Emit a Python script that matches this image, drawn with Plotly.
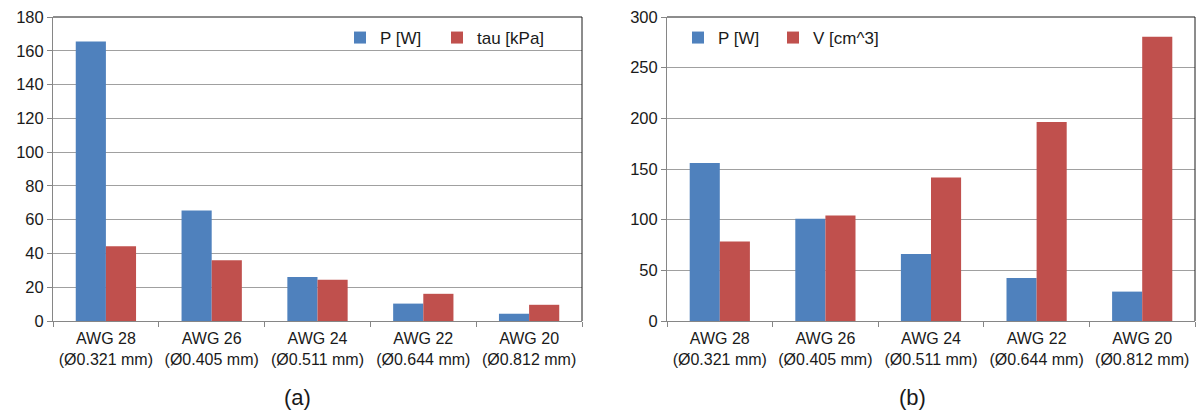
import plotly.graph_objects as go

# Wire gauges compared in both panels
categories = [
    "AWG 28<br>(Ø0.321 mm)",
    "AWG 26<br>(Ø0.405 mm)",
    "AWG 24<br>(Ø0.511 mm)",
    "AWG 22<br>(Ø0.644 mm)",
    "AWG 20<br>(Ø0.812 mm)",
]

# Panel (a): power and shear stress
power_a = [165.5, 65.5, 26, 10.3, 4.3]
tau_kpa = [44.2, 36, 24.4, 16.1, 9.6]

# Panel (b): power and volume
power_b = [156, 101, 66, 42.5, 29]
volume_cm3 = [78.5, 104, 141.5, 196.5, 280.5]

y_ticks_a = list(range(0, 181, 20))
y_ticks_b = list(range(0, 301, 50))

BLUE = "#4F81BD"
RED = "#C0504D"
FONT = "Liberation Sans, Arial, sans-serif"
TEXT = "#1a1a1a"
W, H = 1198, 412


def px_x(v):
    return v / W


def px_y(v):
    return 1 - v / H


fig = go.Figure()

# each series gets its own legend box so the entries can be spaced freely
fig.add_trace(go.Bar(x=categories, y=power_a, name="P [W]", marker_color=BLUE,
                     xaxis="x", yaxis="y", legend="legend"))
fig.add_trace(go.Bar(x=categories, y=tau_kpa, name="tau [kPa]", marker_color=RED,
                     xaxis="x", yaxis="y", legend="legend2"))
fig.add_trace(go.Bar(x=categories, y=power_b, name="P [W]", marker_color=BLUE,
                     xaxis="x2", yaxis="y2", legend="legend3"))
fig.add_trace(go.Bar(x=categories, y=volume_cm3, name="V [cm^3]", marker_color=RED,
                     xaxis="x2", yaxis="y2", legend="legend4"))

fig.update_traces(marker_line_width=0)

x_common = dict(
    type="category", automargin=False,
    showline=True, linecolor="#868686", linewidth=1,
    ticks="outside", tickson="boundaries", ticklen=5, tickcolor="#868686",
    ticklabelstandoff=3,
    showgrid=False,
    tickfont=dict(family=FONT, size=16, color=TEXT),
    fixedrange=True,
)
y_common = dict(
    automargin=False,
    showline=True, linecolor="#868686", linewidth=1,
    ticks="outside", ticklen=5, tickcolor="#868686",
    showgrid=True, gridcolor="#A0A0A0", gridwidth=1,
    zeroline=False,
    tickfont=dict(family=FONT, size=16.5, color=TEXT),
    fixedrange=True,
)

dom_y = [px_y(321), px_y(17)]

legend_common = dict(orientation="h", yanchor="middle", xanchor="left",
                     bgcolor="rgba(0,0,0,0)",
                     font=dict(family=FONT, size=17, color=TEXT))

fig.update_layout(
    width=W, height=H,
    margin=dict(l=0, r=0, t=0, b=0),
    paper_bgcolor="white", plot_bgcolor="white",
    barmode="group", bargap=0.43, bargroupgap=0,
    font=dict(family=FONT, size=16, color=TEXT),
    xaxis=dict(x_common, domain=[px_x(53), px_x(582)], anchor="y"),
    yaxis=dict(y_common, domain=dom_y, anchor="x", range=[0, 180],
               tickvals=y_ticks_a),
    xaxis2=dict(x_common, domain=[px_x(667), px_x(1195)], anchor="y2"),
    yaxis2=dict(y_common, domain=dom_y, anchor="x2", range=[0, 300],
                tickvals=y_ticks_b),
    legend=dict(legend_common, x=px_x(340), y=px_y(38)),
    legend2=dict(legend_common, x=px_x(437), y=px_y(38)),
    legend3=dict(legend_common, x=px_x(678), y=px_y(38)),
    legend4=dict(legend_common, x=px_x(773), y=px_y(38)),
    showlegend=True,
)

# Dark top and right borders of each plot area
for xr, yr in (("x domain", "y domain"), ("x2 domain", "y2 domain")):
    fig.add_shape(type="line", xref=xr, yref=yr, x0=0, x1=1, y0=1, y1=1,
                  line=dict(color=TEXT, width=1))
    fig.add_shape(type="line", xref=xr, yref=yr, x0=1, x1=1, y0=0, y1=1,
                  line=dict(color=TEXT, width=1))

# Panel captions
for label, cx in (("(a)", 297), ("(b)", 913)):
    fig.add_annotation(text=label, xref="paper", yref="paper",
                       x=px_x(cx), y=px_y(397), xanchor="center", yanchor="middle",
                       showarrow=False, font=dict(family=FONT, size=22, color=TEXT))

fig.write_html("out.html")
